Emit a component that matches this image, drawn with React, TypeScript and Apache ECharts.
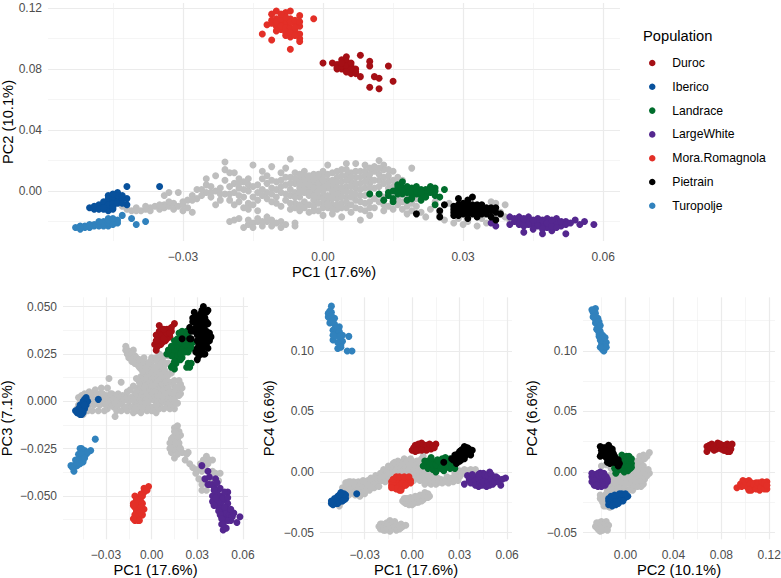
import * as React from 'react';
import * as echarts from 'echarts';

const populations = ['Duroc', 'Iberico', 'Landrace', 'LargeWhite', 'Mora.Romagnola', 'Pietrain', 'Turopolje'];
const popColors = ['#A50F15', '#08519C', '#006D2C', '#54278F', '#E32F27', '#000000', '#3182BD'];

const pc1Ticks = [-0.03, 0, 0.03, 0.06];
const pc1Minor = [-0.045, -0.015, 0.015, 0.045];
const pc2TopTicks = [0, 0.04, 0.08, 0.12];
const pc2TopMinor = [-0.02, 0.02, 0.06, 0.1];
const pc3Ticks = [-0.05, -0.025, 0, 0.025, 0.05];
const pc3Minor = [-0.0625, -0.0375, -0.0125, 0.0125, 0.0375];
const pc4Ticks = [-0.05, 0, 0.05, 0.1];
const pc4Minor = [-0.025, 0.025, 0.075, 0.125];
const pc2Ticks = [0, 0.04, 0.08, 0.12];
const pc2Minor = [-0.02, 0.02, 0.06, 0.1];

// PC1 / PC2
const grayA = [
  -43,-10, -42,-12, -41,-13, -40,-11, -39,-13, -38,-12, -37,-11, -37,-13, -36,-10, -35,-12, -34,-9, -34,-11, -33,-10, -32,-8, -32,-12, -31,-10, -30,-13, -30,-9, -29,-11, -28,-14,
  -34,-3, -33,-1, -31,-1, -29,-6, -28,-3, -27,-5, -27,1, -26,-3, -25,-1, -25,4, -25,8, -24,-1, -23,-9, -23,0, -23,10, -22,2, -22,-6, -21,19, -21,14, -21,-2, -20,3, -20,-6, -20,12, -19,-1, -19,-9, -19,12, -18,-7, -18,8, -18,2, -17,-4, -17,6, -16,8, -16,0, -16,-8, -15,17, -15,-9, -14,-1, -13,13, -13,-3, -12,5, -12,-1, -11,16, -11,2, -11,-7,
  -24,3, -22,-2, -21,7, -20,-2, -19,5, -18,-3, -17,1, -16,4, -15,3, -15,-4, -14,4, -14,-6, -13,1, -13,8, -12,-5, -26,1, -28,-6, -30,-7, -33,-7, -35,-9, -38,-10, -40,-13, -24,-4, -16,-10, -18,5, -12,10, -11,7, -16,-12, -14,-13, -17,-11,
  -20,-20, -19,-19, -18,-18, -17,-24, -16,-22, -15,-21, -15,-24, -14,-20, -14,-18, -13,-23, -12,-20, -12,-17, -11,-23, -10,-21, -9,-24, -9,-20, -8,-22, -6,-21, -6,-23, -16,-19, -13,-20, -11,-19,
  -10,1, -10,-4, -9,7, -9,-1, -9,-10, -8,4, -8,15, -8,-6, -7,21, -7,9, -7,1, -7,-3, -7,-12, -6,12, -6,5, -6,-1, -6,-8, -5,8, -5,2, -5,-4, -5,-13, -4,13, -4,10, -4,4, -4,-1, -4,-7, -4,-11, -3,7, -3,1, -3,-3, -3,-14, -2,11, -2,5, -2,-1, -2,-6, -2,-10, -1,8, -1,3, -1,-4, -1,-13, 0,13, 0,10, 0,5, 0,0, 0,-3, 0,-8, 0,-16, 1,17, 1,7, 1,2, 1,-6, 1,-11, 2,12, 2,4, 2,-2, 2,-9, 2,-15, 3,9, 3,1, 3,-5, 3,-12, 4,14, 4,6, 4,-1, 4,-8, 4,-17, 5,18, 5,10, 5,3, 5,-4, 5,-11, 6,12, 6,6, 6,-1, 6,-14, 7,18, 7,9, 7,2, 7,-6, 7,-11, 8,13, 8,5, 8,-3, 8,-19, 9,17, 9,10, 9,2, 9,-8, 9,-13, 10,15, 10,8, 10,5, 10,-16, 11,13, 11,-11, 11,2, 12,20, 12,11, 12,7, 12,-7, 13,17, 13,14, 13,9, 13,-13, 14,10, 14,6, 14,-10, 15,13, 15,7, 15,-12, 16,9, 16,-9, 17,-12, 18,-5, 18,-15, 19,15, 20,-10, 20,-5, 21,-14,
  -11,-2, -10,6, -10,-8, -9,3, -9,12, -8,-2, -8,9, -7,5, -7,-8, -6,-4, -6,8, -6,-11, -5,-1, -5,5, -5,11, -5,-9, -4,1, -4,7, -3,-1, -3,4, -3,10, -3,-9, -2,2, -2,8, -2,-3, -2,-13, -1,0, -1,5, -1,11, -1,-8, 0,2, 0,7, 0,-5, 0,-11, 1,-3, 1,4, 1,11, 1,-9, 2,0, 2,7, 2,-5, 2,-12, 3,3, 3,6, 3,-2, 3,-9, 3,13, 4,2, 4,10, 4,-4, 4,-11, 5,0, 5,7, 5,-7, 5,14, 6,3, 6,9, 6,-4, 6,-9, 7,5, 7,-2, 7,13, 8,1, 8,9, 8,-7, 8,-12, 9,6, 9,-3, 9,13, 10,2, 10,11, 10,-2, 10,-7, 10,-11, 11,7, 11,-5, 11,16, 12,3, 12,-2, 12,15, 13,5, 13,-4, 13,-9, 14,2, 14,14, 15,3, 15,-6, 16,5, 16,-5, 17,7, 17,-7, 18,-10, 19,-8, 19,-13,
  22,-17, 23,-12, 24,-7, 25,-15, 26,-19, 27,-8, 28,-21, 29,-18, 30,-22, 31,-20, 33,-23, 34,-18, 35,-21, 36,-7, 37,-8, 38,-14, 39,-9, 39,-17, 40,-19, 37,-17,
];
const valuesA = [
  // Duroc
  [0,84, 8,89, 2,84, 3,80, 4,84, 4,86, 5,88, 5,83, 4,80, 5,80, 6,77, 7,78, 8,75, 10,85, 10,82, 14,82, 11,75, 12,74, 15,72, 10,68, 12,67, 3,83, 6,82, 5,85, 7,80, 3,81, 4,82, 5,82, 6,80, 6,84, 4,84, 7,77, 5,78],
  // Iberico
  [-42,3, -35,3, -50,-11, -49,-12, -48,-11, -47,-12, -46,-13, -47,-9, -46,-7, -46,-3, -46,-5, -45,-6, -44,-4, -44,-1, -44,-6, -45,-9, -45,-10, -42,-5, -42,-9, -43,-5, -45,-12, -48,-9, -47,-10, -46,-10, -46,-12, -47,-7, -46,-9, -45,-8, -45,-4, -44,-8, -44,-3, -43,-8, -43,-3, -49,-10, -48,-12, -47,-11, -45,-2, -45,-11],
  // Landrace
  [10,-2, 12,-2, 13,-6, 15,-5, 15,-7, 14,-1, 15,0, 16,4, 17,6, 16,0, 17,2, 18,1, 18,-6, 19,2, 20,-2, 21,-3, 21,-6, 22,0, 23,3, 24,2, 24,-9, 24,-3, 25,-4, 26,1, 22,1, 21,1, 19,-3, 17,-2, 16,2, 14,-3, 18,-1, 19,0, 20,0, 20,3, 22,-2, 23,-1, 21,-1, 18,3, 17,0, 19,-5, 16,-2, 22,-4, 24,0, 23,1],
  // LargeWhite
  [37,-23, 36,-21, 40,-17, 40,-22, 42,-19, 43,-27, 43,-21, 44,-17, 45,-22, 46,-18, 47,-22, 47,-28, 49,-26, 48,-18, 49,-21, 50,-18, 51,-23, 52,-20, 52,-28, 54,-19, 55,-22, 56,-20, 58,-22, 46,-20, 44,-19, 42,-17, 48,-24, 50,-21, 41,-20, 42,-22, 43,-18, 44,-22, 45,-19, 46,-23, 47,-19, 47,-25, 48,-21, 49,-23, 50,-24, 51,-20, 49,-19, 52,-22, 43,-23, 45,-25, 53,-21, 41,-18],
  // Mora.Romagnola
  [-2,113, -13,103, -11,99, -7,93, -10,118, -11,116, -8,117, -7,118, -5,115, -12,109, -11,112, -10,108, -10,113, -9,110, -8,112, -8,109, -7,113, -6,110, -5,108, -5,103, -5,100, -5,98, -7,101, -8,102, -9,106, -8,104, -6,105, -10,110, -11,110, -10,111, -9,113, -9,108, -8,107, -7,107, -7,111, -6,112, -6,107, -5,111, -8,114, -10,105, -7,104, -9,116, -6,102],
  // Pietrain
  [20,-15, 25,-17, 25,-13, 26,-9, 29,-5, 31,-6, 32,-4, 28,-12, 29,-11, 30,-13, 31,-18, 29,-16, 31,-11, 32,-9, 32,-15, 33,-17, 34,-9, 35,-15, 36,-11, 37,-11, 37,-19, 38,-15, 36,-17, 34,-13, 30,-15, 33,-12, 28,-14, 28,-10, 29,-13, 29,-9, 30,-10, 30,-12, 31,-13, 31,-9, 32,-13, 32,-11, 33,-15, 33,-9, 34,-15, 34,-11, 35,-11, 35,-13, 36,-13, 31,-15, 28,-16, 30,-8, 37,-14],
  // Turopolje
  [-53,-24, -52,-25, -52,-23, -51,-23, -50,-24, -50,-22, -48,-21, -47,-20, -46,-18, -45,-20, -44,-19, -43,-16, -46,-23, -47,-23, -49,-23, -41,-18, -40,-22, -38,-20, -51,-24, -49,-22, -48,-23, -47,-21, -46,-21, -45,-22, -46,-19, -44,-21, -50,-23, -52,-24, -48,-20, -45,-18],
];

// PC1 / PC3
const grayB = [
  -49,-4, -48,2, -47,-6, -46,3, -45,-7, -44,4, -42,-5, -41,5, -40,1, -39,-5, -38,3, -37,6, -36,-1, -35,-5, -34,4, -33,7, -32,1, -31,-5, -30,3, -29,7, -29,-4, -28,12, -27,1, -26,4, -25,-3, -24,-8, -24,2, -23,-5, -22,4, -21,-1, -20,10, -20,-5, -19,3, -18,-3, -17,1, -16,5, -16,-5, -15,0, -14,6, -14,-3, -13,2, -12,-6, -12,8, -11,4, -11,-1, -10,12, -10,-5, -9,7, -9,1, -8,-3, -7,13, -7,5, -7,-6, -6,9, -6,1, -5,-3, -5,16, -4,11, -4,5, -3,-5, -3,1, -2,14, -2,8, -1,3, -1,-3, 0,19, 0,11, 0,6, 0,-5, 1,15, 1,1, 2,9, 2,-3, 3,13, 3,5, 3,-6, 4,20, 4,8, 4,0, 5,16, 5,3, 5,-4, 6,11, 6,-1, 7,22, 7,14, 7,5, 8,18, 8,9, 8,-4, 9,1, 9,24, 10,13, 10,7, 10,-2, 11,4, 11,20, 12,10, 12,-1, 13,15, 13,5, 14,1, 14,24, 15,-4, 15,8, 16,3, 17,-1, 17,6, 18,11, 19,4, 19,9, 20,7,
  -48,-2, -47,1, -45,3, -44,-2, -43,0, -42,3, -41,-2, -40,4, -39,0, -38,-2, -37,2, -36,3, -35,1, -34,-2, -33,2, -32,4, -31,0, -30,-2, -29,2, -28,-1, -27,4, -26,-2, -25,1, -24,-1, -23,1, -22,-2, -21,2, -20,-1, -19,0, -18,1, -17,-3, -16,2, -15,-3, -14,2, -13,-3, -12,1, -11,-4, -10,1, -10,5, -9,4, -9,-3, -8,1, -8,6, -8,10, -7,2, -7,-2, -6,5, -6,-3, -6,13, -5,2, -5,7, -5,12, -4,-1, -4,2, -4,8, -4,15, -3,3, -3,8, -3,12, -2,0, -2,3, -2,-4, -2,11, -2,17, -1,6, -1,10, -1,14, 0,2, 0,8, 0,15, 1,4, 1,-3, 1,8, 1,12, 2,1, 2,5, 2,12, 2,17, 3,2, 3,9, 3,-2, 4,3, 4,12, 4,16, 5,0, 5,7, 5,11, 5,20, 6,3, 6,7, 6,14, 7,0, 7,9, 7,18, 8,2, 8,6, 8,13, 9,4, 9,10, 9,16, 10,0, 10,4, 10,10, 11,7, 11,1, 11,14, 12,5, 12,-4, 13,1, 13,10, 14,4, 14,-2, 15,1, 15,5, 15,11, 16,-1, 16,7, 18,3, 18,8,
  -17,27, -17,29, -16,25, -15,23, -14,26, -13,21, -12,27, -11,24, -10,20, -9,22, -8,18, -6,20, -5,23, -3,18, -1,21, 2,22, 5,25, -16,27, -15,26, -14,23, -13,25, -12,23, -11,20, -10,23, -9,19, -8,22, -7,17, -6,16, -4,18, -3,20, -2,20, 0,23, 3,23, 3,18, 6,20, 6,24, 9,20, 11,24,
  15,-14, 17,-13, 18,-16, 19,-18, 16,-17, 14,-19, 14,-22, 12,-22, 15,-24, 13,-27, 16,-26, 18,-24, 15,-30, 20,-27, 24,-27, 22,-31, 25,-33, 27,-35, 29,-38, 32,-33, 36,-29, 38,-31, 40,-31, 33,-37, 31,-41, 33,-44, 36,-47, 39,-42, 42,-38, 45,-38, 15,-16, 17,-20, 13,-20, 16,-22, 18,-22, 14,-25, 17,-28, 12,-25, 19,-25, 23,-28, 30,-36, 34,-31, 37,-33, 34,-42, 33,-47, 37,-42, 35,-35, 40,-37, 44,-42,
];
const valuesB = [
  [3,27, 2,30, 4,32, 3,35, 5,40, 7,38, 6,34, 9,32, 11,35, 12,38, 15,41, 13,37, 10,38, 5,37, 7,31, 9,34, 5,30, 8,36, 12,34, 10,33, 4,34, 5,33, 6,37, 7,35, 8,33, 9,37, 10,36, 11,38, 12,36, 13,39, 6,30, 4,29, 3,32, 8,38],
  [-35,1, -43,2, -45,0, -47,-2, -50,-5, -47,-5, -45,-3, -46,-7, -43,-2, -42,0, -48,-4, -44,-4, -45,-6, -44,1, -46,-4, -44,-1, -43,0, -47,-3, -48,-6, -46,-5, -45,-1, -44,-2, -49,-6, -47,-7],
  [10,25, 13,26, 15,29, 16,31, 19,36, 22,36, 18,33, 22,32, 25,32, 21,29, 23,28, 16,26, 14,24, 16,25, 20,23, 17,22, 14,19, 15,17, 24,20, 23,18, 25,28, 18,30, 24,30, 20,31, 17,28, 19,31, 20,34, 21,33, 22,30, 18,27, 15,26, 20,27, 23,33, 24,34, 17,24, 13,24, 21,26, 19,25, 16,20, 11,27, 13,29, 15,32, 17,33, 18,36, 20,37, 23,37, 27,31, 26,28, 24,26, 22,26, 19,22, 15,21, 13,18, 25,18, 26,20],
  [33,-34, 37,-37, 35,-41, 37,-44, 42,-41, 41,-45, 45,-46, 50,-48, 40,-50, 40,-53, 45,-50, 48,-52, 43,-55, 46,-56, 49,-56, 51,-58, 47,-59, 49,-61, 58,-61, 56,-64, 47,-68, 49,-67, 46,-65, 54,-59, 52,-63, 43,-51, 46,-53, 49,-59, 38,-40, 40,-44, 43,-43, 43,-48, 44,-53, 42,-51, 41,-55, 44,-58, 47,-51, 50,-54, 50,-51, 48,-56, 45,-60, 51,-60, 53,-60, 48,-63, 50,-63, 53,-61, 46,-62, 47,-65, 52,-57, 48,-48, 38,-44, 41,-47],
  [-2,-45, -5,-46, -5,-48, -11,-50, -8,-51, -12,-54, -9,-54, -6,-54, -8,-56, -11,-56, -5,-57, -11,-63, -8,-61, -6,-60, -10,-60, -9,-63, -7,-49, -9,-58, -3,-47, -6,-50, -7,-53, -10,-52, -11,-54, -7,-56, -10,-58, -7,-58, -8,-59, -12,-55, -10,-62, -11,-60, -12,-62, -8,-63],
  [34,50, 37,48, 28,47, 32,46, 27,44, 35,44, 32,41, 37,41, 29,39, 34,39, 26,37, 32,36, 36,35, 38,32, 20,33, 25,33, 30,32, 34,32, 33,29, 29,26, 34,25, 31,24, 31,30, 30,42, 35,37, 33,34, 33,48, 36,47, 29,45, 33,43, 31,44, 36,42, 30,40, 33,38, 35,40, 28,37, 31,37, 36,37, 30,35, 32,33, 35,33, 37,33, 36,30, 32,27, 30,28, 34,28, 33,45, 26,33, 25,39, 27,42, 38,36, 39,34, 37,28, 35,25, 30,22],
  [-37,-20, -40,-26, -46,-25, -47,-25, -48,-28, -45,-28, -50,-31, -45,-32, -53,-34, -51,-37, -48,-33, -43,-28, -47,-29, -51,-34, -46,-30, -49,-34, -45,-27, -44,-26, -46,-28, -47,-31, -48,-31, -49,-31, -50,-34, -52,-35, -47,-33, -42,-27, -44,-30],
];

// PC1 / PC4
const grayC = [
  -46,-28, -45,-25, -43,-20, -42,-9, -41,-13, -40,-19, -39,-8, -38,-15, -37,-8, -36,-19, -35,-12, -34,-8, -33,-20, -32,-14, -31,-7, -30,-18, -29,-11, -28,-7, -27,-15, -26,-5, -25,-12, -24,-8, -23,-3, -22,-10, -21,-7, -20,-1, -19,-7, -18,2, -17,-3, -16,-5, -15,5, -14,1, -13,-2, -12,7, -11,3, -10,7, -9,-1, -8,3, -7,8, -6,2, -5,7, -4,-3, -3,3, -2,7, -1,-1, 0,-4, 0,5, 1,8, 1,-7, 2,1, 3,-3, 3,9, 4,5, 5,-7, 6,-1, 6,11, 7,3, 7,13, 8,-6, 9,-1, 10,-8, 11,-3, 12,-6, 13,-8, 14,-4, 15,-7, 16,-9, 18,-6, 20,-7, 22,-4, 24,-7, 26,-8, 28,-3, 29,-7, 31,-2, 33,2, 35,1, 37,2, 39,1, 30,-4, 34,-2,
  -44,-13, -43,-16, -42,-17, -41,-9, -40,-8, -39,-14, -38,-11, -37,-17, -36,-11, -35,-17, -34,-14, -33,-11, -32,-17, -31,-12, -30,-8, -29,-15, -28,-13, -27,-10, -26,-13, -25,-7, -24,-13, -23,-9, -22,-6, -21,-12, -20,-5, -19,-3, -18,-4, -17,-8, -16,0, -15,-1, -14,-6, -13,4, -12,2, -11,8, -10,2, -9,5, -9,9, -8,8, -7,3, -7,-2, -6,7, -6,-3, -5,2, -5,11, -4,7, -4,3, -3,9, -3,-2, -2,2, -2,-5, -1,6, -1,11, 0,1, 0,9, 1,3, 1,-3, 2,6, 2,-4, 3,-1, 4,1, 4,9, 5,-3, 5,5, 6,-5, 7,-2, 8,-2, 8,-10, 9,-7, 10,-3, 11,-9, 12,-10, 13,-4, 14,-8, 15,-10, 16,-5, 17,-8, 19,-9, 21,-8, 23,-9, 25,-5, 27,-6, 27,-1, 30,1, 32,-1, 36,-2, 38,-1, 40,2,
  -6,-24, -5,-25, -4,-22, -3,-26, -2,-23, -1,-21, 0,-27, 1,-23, 2,-20, 3,-25, 4,-22, 5,-19, 6,-24, 7,-20, 8,-17, 9,-21, 10,-18, 11,-20, -5,-22, -4,-26, -3,-22, -2,-27, -1,-25, 0,-23, 1,-26, 2,-24, 3,-21, 4,-25, 5,-23, 6,-20, 7,-23, 8,-21, 9,-18, 10,-21,
  -21,-45, -20,-43, -19,-47, -18,-45, -17,-48, -16,-42, -15,-46, -14,-40, -14,-49, -13,-43, -12,-46, -11,-41, -10,-48, -9,-44, -8,-47, -7,-43, -6,-45, -4,-44, -20,-47, -19,-43, -18,-48, -17,-43, -16,-46, -15,-43, -14,-44, -13,-47, -12,-42, -11,-45, -10,-44, -9,-47, -8,-44, -7,-46,
];
const valuesC = [
  [0,18, 2,22, 6,24, 4,18, 7,19, 10,21, 15,23, 12,19, 9,18, 2,17, 8,22, 5,21, 12,22, 1,20, 3,21, 4,23, 6,20, 7,22, 9,22, 10,19, 11,23, 13,21, 14,20, 3,18, 6,18],
  [-51,-26, -49,-23, -46,-21, -44,-19, -42,-22, -45,-24, -48,-26, -35,-18, -47,-24, -44,-22, -50,-25, -49,-26, -48,-24, -47,-22, -46,-24, -45,-20, -44,-21, -43,-20, -47,-26, -50,-27, -49,-22, -47,-20, -46,-19, -44,-24, -43,-23, -42,-19, -43,-18, -45,-17, -51,-24],
  [9,7, 12,10, 15,3, 19,11, 18,7, 24,3, 26,6, 11,4, 16,7, 22,10, 21,12, 14,8, 17,4, 20,5, 23,6, 10,3, 10,9, 13,2, 13,6, 15,6, 16,10, 17,9, 18,3, 19,5, 21,8, 22,4, 25,4, 23,9, 8,9, 7,5, 12,12, 15,0, 20,1, 27,3, 24,11],
  [33,-10, 35,-3, 36,-7, 39,-4, 41,-9, 43,-1, 42,-12, 46,-11, 49,0, 51,-4, 56,-11, 59,-5, 53,-8, 47,-5, 39,-9, 44,-6, 50,-9, 47,-10, 44,-3, 54,-5, 36,-4, 37,-9, 38,-2, 40,-7, 40,-11, 42,-5, 43,-9, 44,-11, 45,-1, 45,-8, 46,-2, 47,-12, 48,-8, 48,-3, 49,-11, 50,-2, 50,-6, 51,-10, 52,-8, 53,-4, 55,-8, 57,-6, 42,-2],
  [-13,-11, -11,-7, -8,-7, -4,-5, -1,-7, -3,-9, -6,-12, -8,-15, -11,-13, -9,-9, -5,-8, -10,-10, -13,-8, -12,-12, -12,-9, -10,-6, -7,-11, -6,-6, -4,-8, -3,-6, -9,-13, -7,-13, -6,-9, -2,-8, -10,-14, -13,-13, -12,-6, -10,-4, -8,-4, -5,-4, -2,-4, -1,-9, -4,-11, -7,-15],
  [25,11, 28,7, 31,15, 33,21, 36,19, 38,18, 34,14, 37,14, 27,14, 31,10, 35,18, 31,18, 34,17, 29,11, 32,13, 20,8, 26,10, 27,11, 28,13, 28,10, 29,15, 30,12, 30,17, 31,13, 32,19, 32,16, 33,14, 33,18, 34,20, 35,15, 35,20, 36,16, 37,17, 29,9, 30,9, 33,11],
  [-51,137, -53,131, -52,127, -52,123, -49,127, -46,120, -50,117, -47,114, -50,109, -44,113, -40,112, -44,108, -47,102, -45,105, -41,100, -38,100, -51,132, -49,118, -45,109, -53,128, -51,124, -52,133, -51,129, -50,125, -49,122, -48,119, -48,115, -47,118, -46,116, -46,112, -49,112, -47,107, -45,103, -50,113],
];

// PC2 / PC4
const grayD = [
  20,16, 15,14, 14,11, 12,13, 10,9, 13,8, 9,5, 15,5, 11,3, 7,6, 20,-1, 17,-2, 14,-1, 16,-6, 12,-3, 9,-1, 5,1, 8,2, 15,-10, 13,-8, 10,-6, 7,-4, 4,-2, 1,-1, -1,2, -3,-3, -5,-2, 2,-5, 5,-7, 9,-9, 12,-11, 8,-12, 4,-10, 0,-8, -3,-7, -6,-7, -9,-5, -12,-6, -11,-11, -8,-12, -14,-12, -15,-15, -13,-18, -10,-15, -16,-18, -20,-20, -21,-22, -19,-25, -17,-26, -14,-28, -13,-29, -11,-27, -6,-17, -4,-13, 0,-14, 3,-15, 6,-15, -1,-18, -17,-10, -20,5, -16,6, -12,3, -9,1,
  18,13, 16,11, 14,5, 12,6, 11,9, 8,8, 6,3, 9,2, 12,0, 15,1, 18,-3, 19,2, 16,-2, 14,-6, 11,-3, 8,-5, 5,-4, 3,-1, 6,-9, 9,-6, 12,-8, 13,-12, 10,-12, 6,-11, 3,-9, 0,-10, -2,-11, -4,-9, -7,-5, -9,-9, -11,-7, -13,-9, -8,-15, -6,-13, -10,-19, -17,-22, -15,-22, -19,-21, -21,-19, -18,-28, -16,-28, -15,-25, -3,-1, -1,-4, 1,-5, -6,0, 4,2, -13,-3, -15,-5, -18,-7, -21,-9,
  -25,-45, -24,-42, -23,-47, -22,-44, -21,-49, -20,-41, -19,-46, -18,-44, -17,-47, -16,-41, -15,-45, -14,-44, -22,-48, -19,-43, -24,-45, -22,-42, -23,-43, -21,-46, -20,-44, -19,-48, -18,-47, -17,-44, -16,-45, -15,-48, -20,-47,
];
const valuesD = [
  [68,21, 68,17, 72,23, 75,20, 77,24, 81,22, 85,23, 89,23, 87,17, 83,18, 76,19, 79,21, 73,19, 85,20, 70,22, 71,20, 74,21, 76,22, 78,20, 80,19, 82,21, 83,22, 87,21, 88,19, 85,17, 79,23, 82,18, 74,18, 88,22],
  [-13,-23, -11,-24, -9,-26, -5,-22, 2,-20, -10,-21, -2,-22, -7,-20, -12,-26, -6,-24, -14,-24, -12,-22, -10,-24, -8,-24, -8,-21, -7,-23, -6,-21, -4,-21, -3,-21, -1,-20, 1,-20, 0,-21, -13,-26, -10,-27, -14,-22, -14,-27, -11,-28, -8,-27, -6,-26, -4,-24, -2,-24, -12,-20, -9,-19, -5,-18, -3,-18, 0,-18],
  [-8,2, -6,6, -3,11, 1,13, 5,7, 1,2, -3,4, 1,7, 3,11, 4,3, -1,9, -5,2, -7,5, -6,3, -5,9, -4,6, -3,8, -2,4, -1,12, -1,5, 0,10, 2,9, 3,5, 4,8, 2,4, -7,1, 1,11, -9,3, -8,6, -8,-1, 2,1, 5,4, 5,11, -3,14, 3,13, -1,0],
  [-28,-4, -26,-11, -21,0, -16,-4, -15,-8, -20,-12, -21,-5, -25,-2, -28,-8, -18,-1, -23,-12, -17,-11, -24,-7, -27,-6, -28,-1, -26,-3, -25,-8, -24,-4, -23,-1, -23,-8, -22,-3, -22,-10, -21,-8, -20,-2, -19,-5, -19,-9, -18,-7, -17,-4, -16,-7, -26,-7, -25,-11, -24,-11, -15,-6],
  [93,-13, 98,-7, 97,-12, 101,-8, 105,-15, 105,-9, 109,-9, 112,-15, 118,-8, 118,-14, 115,-11, 108,-13, 103,-12, 113,-10, 100,-11, 96,-10, 99,-11, 100,-8, 102,-13, 103,-7, 104,-10, 106,-13, 107,-10, 109,-14, 110,-11, 111,-9, 113,-13, 114,-8, 116,-14, 116,-9, 118,-11, 103,-15],
  [-20,15, -17,20, -13,20, -10,15, -17,13, -13,10, -15,15, -5,7, -8,11, -10,8, -19,18, -12,13, -15,18, -7,7, -20,18, -19,14, -18,16, -18,20, -17,16, -16,12, -16,17, -15,11, -14,16, -14,13, -13,14, -12,16, -12,10, -11,12, -11,17, -10,12, -9,9, -8,8, -6,10, -7,9, -15,8, -13,7, -21,21, -14,22, -11,19, -9,13, -21,13, -6,5],
  [-25,135, -27,132, -24,127, -23,121, -21,116, -20,110, -17,107, -19,101, -20,104, -25,126, -22,114, -18,100, -26,129, -22,118, -26,134, -26,130, -25,131, -25,123, -24,124, -24,118, -23,117, -22,112, -21,109, -20,107, -19,106, -16,107, -19,103, -28,134, -23,127, -22,124, -27,128, -21,121, -19,113, -17,111, -16,103, -21,103],
];

const pairs = (flat: number[]) => {
  const out: number[][] = [];
  for (let i = 0; i < flat.length; i += 2) out.push([flat[i] / 1000, flat[i + 1] / 1000]);
  return out;
};

const labelFont = 'Liberation Sans';

interface Panel {
  left: number; top: number; width: number; height: number;
  xMin: number; xMax: number; yMin: number; yMax: number;
  xName: string; yName: string; xTicks: number[]; xMinor: number[]; yTicks: number[]; yMinor: number[];
  xDigits: number; yDigits: number; yGap: number;
  gray: number[]; values: number[][];
}

const panels: Panel[] = [
  { left: 48, top: 3, width: 572, height: 238, xMin: -0.0589, xMax: 0.0636, yMin: -0.0328, yMax: 0.1233,
    xName: 'PC1 (17.6%)', yName: 'PC2 (10.1%)', xTicks: pc1Ticks, xMinor: pc1Minor, yTicks: pc2TopTicks, yMinor: pc2TopMinor,
    xDigits: 2, yDigits: 2, yGap: 33, gray: grayA, values: valuesA },
  { left: 63, top: 297.3, width: 185, height: 242, xMin: -0.0582, xMax: 0.0633, yMin: -0.0729, yMax: 0.0549,
    xName: 'PC1 (17.6%)', yName: 'PC3 (7.1%)', xTicks: pc1Ticks, xMinor: pc1Minor, yTicks: pc3Ticks, yMinor: pc3Minor,
    xDigits: 2, yDigits: 3, yGap: 49, gray: grayB, values: valuesB },
  { left: 320, top: 297.3, width: 192, height: 242, xMin: -0.0582, xMax: 0.0631, yMin: -0.0556, yMax: 0.1443,
    xName: 'PC1 (17.6%)', yName: 'PC4 (6.6%)', xTicks: pc1Ticks, xMinor: pc1Minor, yTicks: pc4Ticks, yMinor: pc4Minor,
    xDigits: 2, yDigits: 2, yGap: 44, gray: grayC, values: valuesC },
  { left: 583, top: 297.3, width: 192, height: 242, xMin: -0.0354, xMax: 0.1248, yMin: -0.0556, yMax: 0.1443,
    xName: 'PC2 (10.1%)', yName: 'PC4 (6.6%)', xTicks: pc2Ticks, xMinor: pc2Minor, yTicks: pc4Ticks, yMinor: pc4Minor,
    xDigits: 2, yDigits: 2, yGap: 44, gray: grayD, values: valuesD },
];

const fmt = (digits: number) => (v: number) => {
  const s = Math.abs(v).toFixed(digits);
  return v < -1e-9 ? '\u2212' + s : s;
};

const buildAxis = (
  gridIndex: number, min: number, max: number, ticks: number[], minor: number[], digits: number,
  name: string, gap: number, isY: boolean
) => {
  const shared = { type: 'value', gridIndex, min, max, axisLine: { show: false, onZero: false } };
  return [
    {
      ...shared,
      name,
      nameLocation: 'middle',
      nameGap: gap,
      nameMoveOverlap: false,
      nameRotate: isY ? 90 : 0,
      nameTextStyle: { fontFamily: labelFont, fontSize: 14.7, color: '#000000' },
      axisTick: { show: false, customValues: ticks },
      axisLabel: {
        customValues: ticks, formatter: fmt(digits), margin: isY ? 6 : 10,
        fontFamily: labelFont, fontSize: 12, color: '#4D4D4D',
      },
      splitLine: { show: true, lineStyle: { color: '#EBEBEB', width: 1.2 } },
    },
    {
      ...shared,
      axisTick: { show: false, customValues: minor },
      axisLabel: { show: false },
      splitLine: { show: true, lineStyle: { color: '#EFEFEF', width: 0.6 } },
    },
  ];
};

const App = () => {
  const chartRef = React.useRef<HTMLDivElement>(null);

  React.useEffect(() => {
    if (!chartRef.current) return;
    const chart = echarts.init(chartRef.current, undefined, { renderer: 'svg' });

    const xAxis: any[] = [];
    const yAxis: any[] = [];
    const series: any[] = [];
    panels.forEach((p, i) => {
      xAxis.push(...buildAxis(i, p.xMin, p.xMax, p.xTicks, p.xMinor, p.xDigits, p.xName, 23, false));
      yAxis.push(...buildAxis(i, p.yMin, p.yMax, p.yTicks, p.yMinor, p.yDigits, p.yName, p.yGap, true));
      const scatter = { type: 'scatter', xAxisIndex: i * 2, yAxisIndex: i * 2, symbolSize: 7, silent: true };
      series.push({ ...scatter, name: 'Other', itemStyle: { color: '#BEBEBE', opacity: 1 }, data: pairs(p.gray) });
      populations.forEach((pop, k) => {
        series.push({ ...scatter, name: pop, itemStyle: { color: popColors[k], opacity: 1 }, data: pairs(p.values[k]) });
      });
    });

    chart.setOption({
      animation: false,
      backgroundColor: '#FFFFFF',
      textStyle: { fontFamily: labelFont },
      title: {
        text: 'Population', left: 638, top: 23,
        textStyle: { fontFamily: labelFont, fontSize: 14.7, fontWeight: 'normal', color: '#000000' },
      },
      legend: {
        orient: 'vertical', left: 644, top: 52, selectedMode: false,
        itemWidth: 30, itemHeight: 6.5, itemGap: 11.8,
        textStyle: { fontFamily: labelFont, fontSize: 12.2, color: '#000000' },
        data: populations.map((name) => ({ name, icon: 'circle' })),
      },
      grid: panels.map((p) => ({
        left: p.left, top: p.top, width: p.width, height: p.height, outerBoundsMode: 'none',
      })),
      xAxis,
      yAxis,
      series,
    });

    return () => {
      chart.dispose();
    };
  }, []);

  return <div ref={chartRef} style={{ position: 'fixed', left: 0, top: 0, width: 781, height: 578 }} />;
};

export default App;
